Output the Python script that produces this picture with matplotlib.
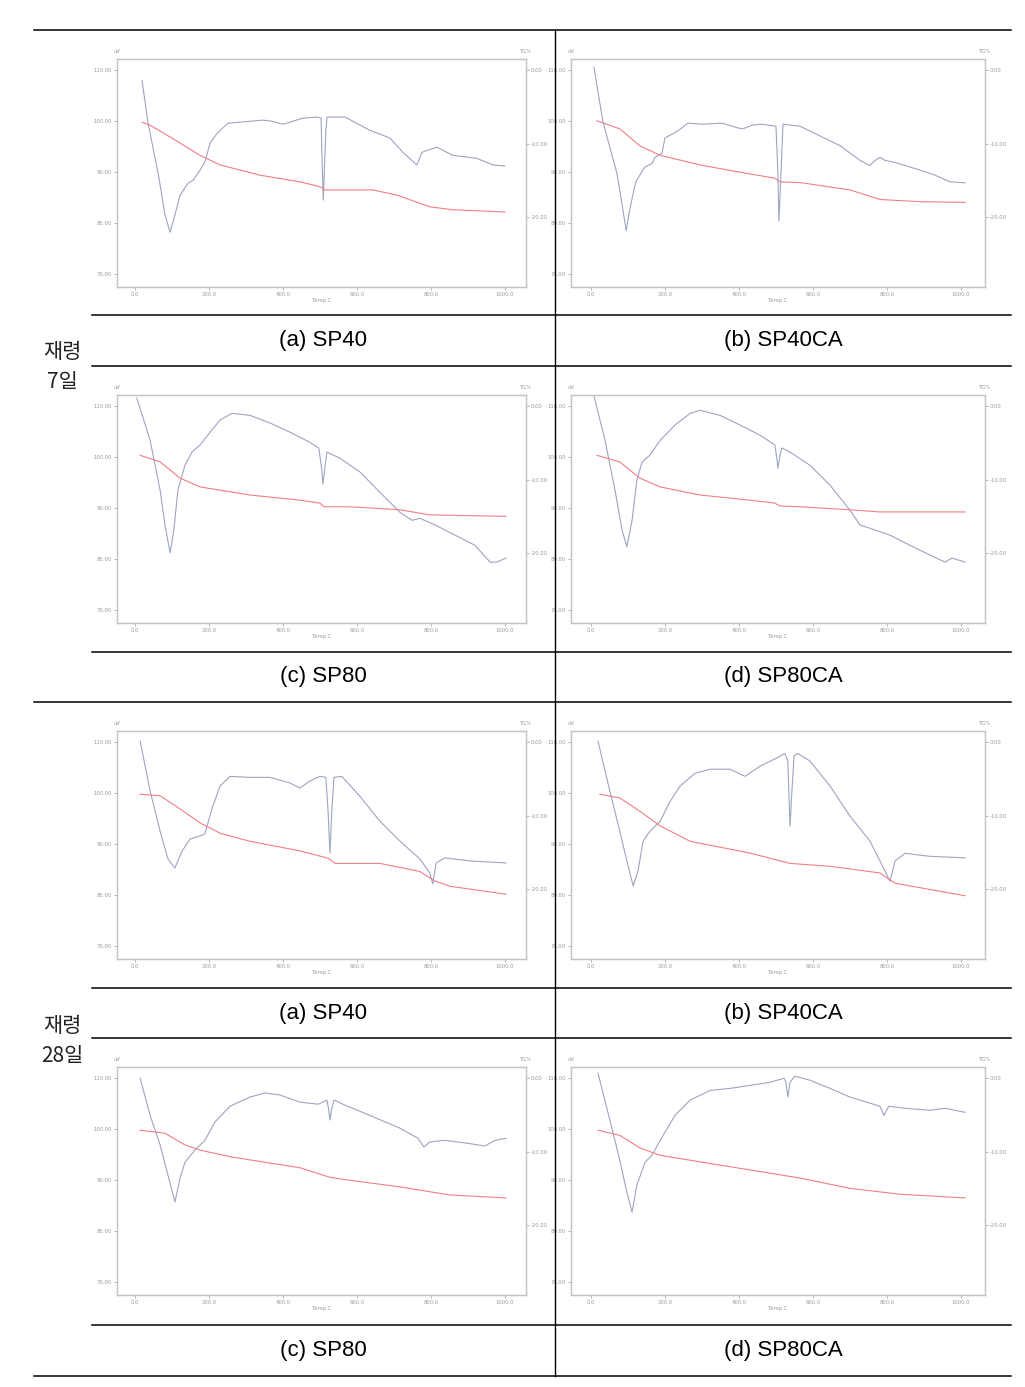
import matplotlib
matplotlib.use('Agg')
import matplotlib.pyplot as plt
from matplotlib.lines import Line2D
from matplotlib import font_manager

W, H = 1025, 1387

# ---------------- data (Temp degC, DTA uV, TG %) ----------------
# 7 days
a7_dta_t = [19,35,65,81,95,108,122,143,157,176,189,203,222,251,346,370,400,419,454,492,503,505,509,516,519,568,635,689,724,762,776,816,859,924,968,1000]
a7_dta_v = [108.0,99.8,88.8,81.6,78.2,81.6,85.5,87.8,88.4,90.4,92.0,95.7,97.6,99.6,100.2,100.0,99.4,99.8,100.6,100.8,100.6,94.3,84.5,98.2,100.8,100.8,98.2,96.7,93.9,91.4,93.9,94.9,93.3,92.7,91.4,91.2]
a7_tg_t = [19,41,108,176,230,338,446,503,511,643,708,797,859,1000]
a7_tg_v = [-7.1,-7.5,-9.5,-11.6,-12.9,-14.3,-15.2,-15.9,-16.3,-16.3,-17.0,-18.6,-19.0,-19.3]

b7_dta_t = [8,32,70,84,95,105,119,124,146,165,173,192,200,235,262,300,354,395,411,435,462,500,505,508,514,519,565,619,673,727,754,768,781,795,822,849,889,930,970,1011]
b7_dta_v = [110.6,100.0,89.8,83.7,78.5,82.7,87.5,88.5,91.0,91.7,92.9,93.7,96.7,98.1,99.6,99.4,99.6,98.7,98.5,99.2,99.4,99.0,90.4,80.4,90.4,99.4,99.0,97.1,95.2,92.3,91.3,92.3,92.9,92.3,91.9,91.3,90.4,89.4,88.1,87.9]
b7_tg_t = [16,78,132,187,295,403,497,511,565,700,781,889,1011]
b7_tg_v = [-6.9,-8.0,-10.3,-11.6,-12.9,-13.9,-14.7,-15.2,-15.3,-16.3,-17.6,-17.9,-18.0]

c7_dta_t = [5,41,68,81,95,105,116,135,154,176,203,230,262,311,365,419,473,497,505,508,514,519,554,608,662,716,749,770,811,865,919,960,978,1003]
c7_dta_v = [111.6,103.3,93.5,86.7,81.2,85.7,93.5,98.4,101.0,102.4,104.9,107.3,108.6,108.2,106.7,104.9,102.9,101.8,97.5,94.7,98.4,101.0,99.8,97.1,93.1,89.2,87.6,88.0,86.7,84.7,82.7,79.4,79.4,80.2]
c7_tg_t = [14,68,122,176,311,446,500,511,581,716,797,1003]
c7_tg_v = [-6.7,-7.6,-9.8,-11.0,-12.1,-12.8,-13.2,-13.7,-13.7,-14.1,-14.8,-15.0]

d7_dta_t = [8,38,65,84,97,111,124,138,159,187,227,268,295,349,403,457,497,503,505,511,516,538,592,646,700,727,768,808,862,916,957,976,1011]
d7_dta_v = [112.0,103.3,93.5,85.7,82.4,87.6,95.5,99.0,100.4,103.3,106.3,108.6,109.2,108.2,106.3,104.3,102.4,99.4,97.8,100.4,101.8,101.0,98.4,94.5,89.6,86.7,85.7,84.7,82.7,80.8,79.4,80.2,79.4]
d7_tg_t = [16,78,132,187,295,430,497,511,565,700,781,1011]
d7_tg_v = [-6.7,-7.6,-9.8,-11.0,-12.1,-12.8,-13.2,-13.6,-13.7,-14.1,-14.4,-14.4]

# 28 days
a28_dta_t = [14,41,68,89,108,127,149,176,189,208,230,257,311,365,419,446,473,500,516,522,527,532,538,559,608,662,716,770,797,805,814,838,905,1003]
a28_dta_v = [110.2,100.4,92.5,87.1,85.3,88.6,91.0,91.6,92.0,96.9,101.4,103.3,103.1,103.1,102.0,101.0,102.4,103.3,103.1,96.5,88.2,96.5,103.1,103.3,99.4,94.5,90.6,87.1,84.3,82.2,86.3,87.3,86.7,86.3]
a28_tg_t = [14,68,122,176,230,311,446,522,541,662,770,811,851,1003]
a28_tg_v = [-7.1,-7.3,-9.1,-11.0,-12.4,-13.5,-14.8,-15.8,-16.5,-16.5,-17.6,-18.9,-19.6,-20.7]

b28_dta_t = [19,51,78,97,114,127,141,159,187,214,241,281,322,376,416,457,497,524,532,538,543,549,559,592,646,700,754,795,808,822,849,916,1011]
b28_dta_v = [110.2,100.4,92.5,86.7,81.8,84.7,90.6,92.5,94.5,98.4,101.4,103.9,104.7,104.7,103.3,105.3,106.7,107.8,106.3,93.5,100.4,107.3,107.8,106.3,101.4,95.5,90.6,84.7,82.7,86.7,88.2,87.6,87.3]
b28_tg_t = [24,78,132,187,268,430,538,646,781,822,1011]
b28_tg_v = [-7.1,-7.6,-9.4,-11.4,-13.5,-15.1,-16.5,-16.9,-17.8,-19.2,-20.9]

c28_dta_t = [14,41,68,89,108,122,135,162,189,216,257,311,351,392,446,495,519,524,527,532,538,568,635,716,765,781,797,838,892,946,973,1003]
c28_dta_v = [110.0,102.7,96.9,91.0,85.7,90.4,93.5,95.9,97.8,101.4,104.5,106.3,107.1,106.7,105.3,104.9,105.7,103.7,101.8,104.1,105.7,104.7,102.7,100.2,98.2,96.5,97.5,97.8,97.3,96.7,97.8,98.2]
c28_tg_t = [14,81,135,176,257,446,527,581,716,851,1003]
c28_tg_v = [-7.1,-7.5,-9.1,-9.8,-10.7,-12.2,-13.5,-13.9,-14.8,-15.9,-16.3]

d28_dta_t = [19,51,78,97,111,124,146,165,187,227,268,322,376,430,484,522,527,532,538,551,592,646,700,754,781,792,805,849,916,957,1011]
d28_dta_v = [111.0,101.8,93.9,87.6,83.7,89.0,93.5,94.9,97.8,102.7,105.7,107.6,108.0,108.6,109.2,110.0,109.2,106.3,109.2,110.4,109.6,108.0,106.3,105.1,104.5,102.7,104.5,104.1,103.7,104.1,103.3]
d28_tg_t = [19,78,132,187,295,430,565,700,835,1011]
d28_tg_v = [-7.1,-7.8,-9.5,-10.5,-11.4,-12.5,-13.6,-15.0,-15.8,-16.3]

captions = ["(a) SP40", "(b) SP40CA", "(c) SP80", "(d) SP80CA"]
age_labels = ["재령\n7일", "재령\n28일"]
temp_ticks = [0, 200, 400, 600, 800, 1000]
temp_labels = ["0.0", "200.0", "400.0", "600.0", "800.0", "1000.0"]
dta_ticks = [70, 80, 90, 100, 110]
dta_labels = ["70.00", "80.00", "90.00", "100.00", "110.00"]
tg_ticks = [0, -10, -20]
tg_labels = ["0.00", "-10.00", "-20.00"]

panels = [
    (a7_dta_t, a7_dta_v, a7_tg_t, a7_tg_v),
    (b7_dta_t, b7_dta_v, b7_tg_t, b7_tg_v),
    (c7_dta_t, c7_dta_v, c7_tg_t, c7_tg_v),
    (d7_dta_t, d7_dta_v, d7_tg_t, d7_tg_v),
    (a28_dta_t, a28_dta_v, a28_tg_t, a28_tg_v),
    (b28_dta_t, b28_dta_v, b28_tg_t, b28_tg_v),
    (c28_dta_t, c28_dta_v, c28_tg_t, c28_tg_v),
    (d28_dta_t, d28_dta_v, d28_tg_t, d28_tg_v),
]

# ---------------- figure ----------------
fig = plt.figure(figsize=(W / 100, H / 100), dpi=100)
fig.patch.set_facecolor('white')

def fx(x):
    return x / W

def fy(y):
    return 1 - y / H

installed = {f.name for f in font_manager.fontManager.ttflist}
cap_font = 'Liberation Sans Narrow' if 'Liberation Sans Narrow' in installed else 'Liberation Sans'
cap_size = 19 if cap_font == 'Liberation Sans Narrow' else 16

AX_GRAY = '#c4c4c4'
TXT_GRAY = '#9a9a9a'
DTA_COL = '#9ea4c2'
TG_COL = '#f07f86'

col_px = [(117, 526, (-48.6, 1057)), (571, 985, (-54, 1065))]
row_top = [59, 395, 731, 1067]
AX_H = 228

for i, (dt, dv, tt, tv) in enumerate(panels):
    r, c = divmod(i, 2)
    l, rr, xl = col_px[c]
    top = row_top[r]
    ax = fig.add_axes([fx(l), fy(top + AX_H), (rr - l) / W, AX_H / H])
    ax2 = ax.twinx()
    ax.plot(dt, dv, color=DTA_COL, lw=0.8)
    ax2.plot(tt, tv, color=TG_COL, lw=0.8)
    ax.set_xlim(*xl)
    ax.set_ylim(67.45, 112.2)
    ax2.set_ylim(-29.5, 1.5)
    ax.set_xticks(temp_ticks)
    ax.set_xticklabels(temp_labels)
    ax.set_yticks(dta_ticks)
    ax.set_yticklabels(dta_labels)
    ax2.set_yticks(tg_ticks)
    ax2.set_yticklabels(tg_labels)
    for a in (ax, ax2):
        for s in a.spines.values():
            s.set_color(AX_GRAY)
            s.set_linewidth(0.9)
        a.tick_params(labelsize=3.8, colors=TXT_GRAY, length=2, width=0.5, pad=1.5)
    ax.set_xlabel("Temp C", fontsize=3.8, color=TXT_GRAY, labelpad=1)
    ax.text(0.0, 1.02, "uV", transform=ax.transAxes, fontsize=3.8, color=TXT_GRAY,
            ha='center', va='bottom')
    ax2.text(1.0, 1.02, "TG%", transform=ax2.transAxes, fontsize=3.8, color=TXT_GRAY,
             ha='center', va='bottom')

# ---------------- table lines ----------------
def hline(y, x0, x1=1011):
    fig.add_artist(Line2D([fx(x0), fx(x1)], [fy(y), fy(y)], color='black', lw=1.1))

for y in [30, 702, 1376]:
    hline(y, 34)
for y in [315, 366, 652, 988, 1038, 1325]:
    hline(y, 92)
fig.add_artist(Line2D([fx(555), fx(555)], [fy(30), fy(1376)], color='black', lw=1.0))

# ---------------- captions ----------------
cap_rows = [340.5, 677, 1013, 1350.5]
cap_cols = [323, 783]
for i in range(8):
    r, c = divmod(i, 2)
    fig.text(fx(cap_cols[c]), fy(cap_rows[r]), captions[i % 4], ha='center', va='center',
             fontsize=cap_size, family=[cap_font, 'DejaVu Sans'])

for lab, yc in zip(age_labels, [367, 1041]):
    fig.text(fx(62), fy(yc), lab, ha='center', va='center', fontsize=15,
             family=['Noto Sans CJK KR', 'DejaVu Sans'], linespacing=1.45,
             color='#222222')

fig.savefig('out.png', dpi=100, facecolor='white')
